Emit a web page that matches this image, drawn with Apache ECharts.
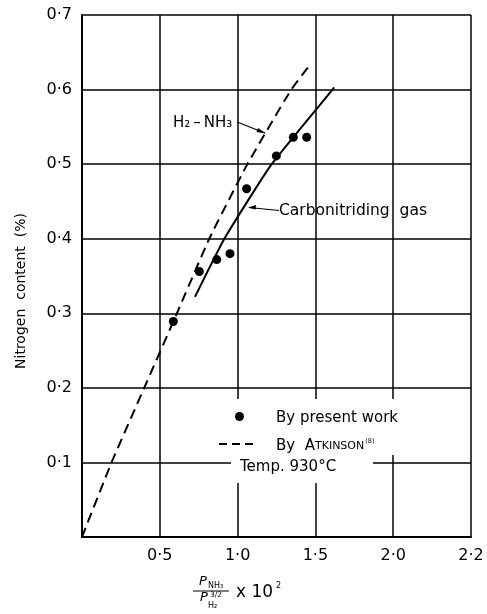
<!DOCTYPE html>
<html>
<head>
<meta charset="utf-8">
<script src="https://cdn.jsdelivr.net/npm/echarts@6/dist/echarts.min.js"></script>
<style>html,body{margin:0;padding:0;background:#fff}#c{width:487px;height:614px}</style>
</head>
<body>
<div id="c"></div>
<script>
// ---- data ----
const xTickLabels = ['', '0·5', '1·0', '1·5', '2·0', '2·2'];
const yTickLabels = ['', '0·1', '0·2', '0·3', '0·4', '0·5', '0·6', '0·7'];
const presentX = [0.587, 0.754, 0.866, 0.951, 1.058, 1.249, 1.358, 1.444];
const presentY = [0.289, 0.356, 0.372, 0.380, 0.467, 0.511, 0.536, 0.536];
const atkinsonX = [0, 0.19, 0.40, 0.61, 0.818, 1.063, 1.345, 1.472];
const atkinsonY = [0, 0.1, 0.2, 0.3, 0.4, 0.5, 0.6, 0.635];
const carboX = [0.726, 0.915, 1.219, 1.61, 1.62];
const carboY = [0.322, 0.4, 0.5, 0.6, 0.603];

const zip = (a, b) => a.map((v, i) => [v, b[i]]);
const FONT = 'DejaVu Sans';
const chart = echarts.init(document.getElementById('c'), null, {renderer: 'canvas'});

const txt = (x, y, text, size, extra) => Object.assign({
  type: 'text', x: x, y: y, z: 20,
  style: Object.assign({text: text, fontFamily: FONT, fontSize: size, fill: '#000', verticalAlign: 'middle'}, extra || {})
});

chart.setOption({
  animation: false,
  backgroundColor: '#fff',
  grid: {left: 82, top: 15, right: 16, bottom: 77},
  xAxis: {
    type: 'value', min: 0, max: 2.5, interval: 0.5,
    axisLine: {show: true, onZero: false, lineStyle: {color: '#000', width: 2}},
    axisTick: {show: false},
    splitLine: {show: true, lineStyle: {color: '#000', width: 1.5}},
    axisLabel: {
      margin: 11, color: '#000', fontFamily: FONT, fontSize: 16,
      formatter: v => xTickLabels[Math.round(v / 0.5)] || ''
    }
  },
  yAxis: {
    type: 'value', min: 0, max: 0.7, interval: 0.1,
    axisLine: {show: true, onZero: false, lineStyle: {color: '#000', width: 2}},
    axisTick: {show: false},
    splitLine: {show: true, lineStyle: {color: '#000', width: 1.5}},
    axisLabel: {
      margin: 10, color: '#000', fontFamily: FONT, fontSize: 16,
      formatter: v => yTickLabels[Math.round(v / 0.1)] || ''
    }
  },
  series: [
    {
      name: 'By Atkinson', type: 'line', data: zip(atkinsonX, atkinsonY),
      smooth: 0.15, showSymbol: false, z: 3,
      lineStyle: {color: '#000', width: 2, type: [10, 6]}
    },
    {
      name: 'Carbonitriding gas', type: 'line', data: zip(carboX, carboY),
      smooth: 0.15, showSymbol: false, z: 3,
      lineStyle: {color: '#000', width: 2}
    },
    {
      name: 'By present work', type: 'scatter', data: zip(presentX, presentY),
      symbol: 'circle', symbolSize: 9, z: 4,
      itemStyle: {color: '#000', opacity: 1}
    }
  ],
  graphic: [
    // legend masks over gridlines
    {type: 'rect', z: 10, shape: {x: 231, y: 399, width: 142, height: 84}, style: {fill: '#fff'}},
    {type: 'rect', z: 10, shape: {x: 370, y: 399, width: 40, height: 56}, style: {fill: '#fff'}},
    // legend items
    {type: 'circle', z: 20, shape: {cx: 239.5, cy: 416.5, r: 4.5}, style: {fill: '#000'}},
    txt(276, 418, 'By present work', 15),
    {type: 'line', z: 20, shape: {x1: 219, y1: 444, x2: 256, y2: 444}, style: {stroke: '#000', lineWidth: 2, lineDash: [8, 5]}},
    {
      type: 'text', x: 276, y: 446, z: 20,
      style: {
        text: '{a|By  A}{b|TKINSON}{c|(8)}', verticalAlign: 'middle', fill: '#000',
        rich: {
          a: {fontFamily: FONT, fontSize: 15, fill: '#000'},
          b: {fontFamily: FONT, fontSize: 11, fill: '#000'},
          c: {fontFamily: FONT, fontSize: 6.5, fill: '#000', padding: [0, 0, 10, 1]}
        }
      }
    },
    txt(240, 467, 'Temp. 930°C', 15),
    // annotations
    txt(173, 123, 'H₂\u2009–\u2009NH₃', 15),
    {type: 'line', z: 20, shape: {x1: 237, y1: 122, x2: 265, y2: 133}, style: {stroke: '#000', lineWidth: 1.2}},
    {type: 'polygon', z: 20, shape: {points: [[266, 133.5], [258, 128], [256.5, 132]]}, style: {fill: '#000'}},
    txt(279, 211, 'Carbonitriding  gas', 15.5),
    {type: 'line', z: 20, shape: {x1: 279, y1: 210.5, x2: 249, y2: 207.5}, style: {stroke: '#000', lineWidth: 1.2}},
    {type: 'polygon', z: 20, shape: {points: [[248, 207.5], [256, 205], [255.5, 209.5]]}, style: {fill: '#000'}},
    // y axis title
    {
      type: 'text', x: 21, y: 291, rotation: Math.PI / 2, z: 20,
      style: {text: 'Nitrogen  content  (%)', fontFamily: FONT, fontSize: 14, fill: '#000', align: 'center', verticalAlign: 'middle'}
    },
    // x axis title: P_NH3 / P_H2^(3/2) x 10^2
    txt(199, 582, 'P', 13, {fontStyle: 'italic'}),
    txt(208, 586, 'NH₃', 8),
    {type: 'line', z: 20, shape: {x1: 193, y1: 591, x2: 229, y2: 591}, style: {stroke: '#000', lineWidth: 1}},
    txt(200, 598, 'P', 13, {fontStyle: 'italic'}),
    txt(210, 595, '3/2', 7.5),
    txt(208, 606, 'H₂', 8),
    txt(236, 593, 'x 10', 17),
    txt(276, 586, '2', 8)
  ]
});
</script>
</body>
</html>
